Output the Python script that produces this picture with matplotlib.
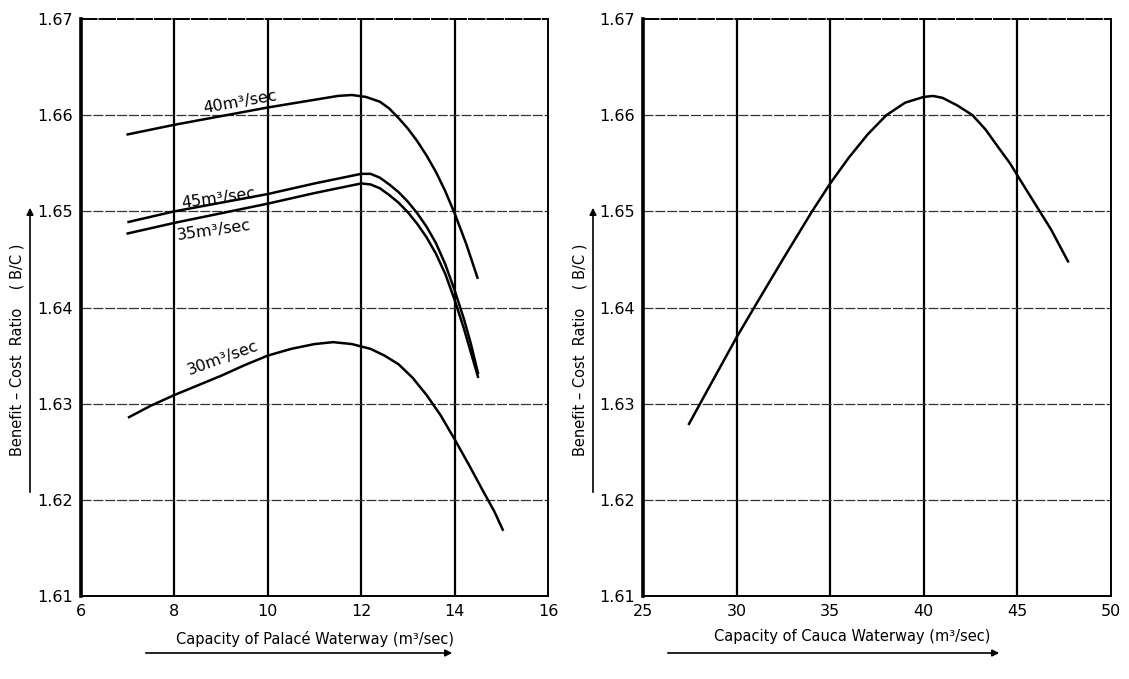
import numpy as np
import matplotlib.pyplot as plt

# Palacé waterway curves (x = capacity m3/sec, y = B/C)
x_40 = [7.0, 8.0, 9.0, 10.0, 10.5, 11.0, 11.5, 11.8, 12.1, 12.4, 12.6, 12.8, 13.0, 13.2,
        13.4, 13.6, 13.8, 14.0, 14.25, 14.49]
y_40 = [1.6580, 1.6590, 1.6599, 1.6608, 1.6612, 1.6616, 1.6620, 1.6621, 1.6619, 1.6614,
        1.6607, 1.6597, 1.6586, 1.6573, 1.6558, 1.6541, 1.6521, 1.6498, 1.6466, 1.6431]

x_45 = [7.02, 8.0, 9.0, 10.0, 11.0, 11.6, 12.0, 12.2, 12.4, 12.6, 12.8, 13.0, 13.2, 13.4,
        13.6, 13.8, 14.0, 14.2, 14.35, 14.5]
y_45 = [1.6489, 1.6500, 1.6509, 1.6518, 1.6529, 1.6535, 1.6539, 1.6539, 1.6535, 1.6528,
        1.6520, 1.6510, 1.6498, 1.6484, 1.6467, 1.6445, 1.6418, 1.6388, 1.6362, 1.6332]

x_35 = [7.0, 8.0, 9.0, 10.0, 11.0, 11.6, 12.0, 12.2, 12.4, 12.6, 12.8, 13.0, 13.2, 13.4,
        13.6, 13.8, 14.0, 14.2, 14.35, 14.5]
y_35 = [1.6477, 1.6488, 1.6498, 1.6508, 1.6519, 1.6525, 1.6529, 1.6528, 1.6524, 1.6517,
        1.6509, 1.6499, 1.6487, 1.6473, 1.6456, 1.6435, 1.6408, 1.6378, 1.6353, 1.6328]

x_30 = [7.03, 7.5, 8.0, 8.5, 9.0, 9.5, 10.0, 10.5, 11.0, 11.4, 11.8, 12.2, 12.5, 12.8,
        13.1, 13.4, 13.7, 14.0, 14.3, 14.6, 14.85, 15.03]
y_30 = [1.6286, 1.6298, 1.6309, 1.6319, 1.6329, 1.6340, 1.6350, 1.6357, 1.6362, 1.6364,
        1.6362, 1.6357, 1.6350, 1.6341, 1.6327, 1.6309, 1.6288, 1.6263, 1.6237, 1.6210,
        1.6188, 1.6169]

# Cauca waterway curve
x_cauca = [27.46, 28.5, 30.0, 31.0, 32.5, 34.0, 35.0, 36.0, 37.0, 38.0, 39.0, 40.0, 40.5,
           41.0, 41.8, 42.6, 43.3, 44.0, 44.6, 45.2, 46.0, 46.8, 47.7]
y_cauca = [1.6279, 1.6316, 1.6369, 1.6402, 1.6451, 1.6499, 1.6529, 1.6556, 1.6580, 1.6600,
           1.6613, 1.6619, 1.6620, 1.6618, 1.6610, 1.6600, 1.6585, 1.6566, 1.6550, 1.6531,
           1.6506, 1.6481, 1.6448]

yticks = [1.61, 1.62, 1.63, 1.64, 1.65, 1.66, 1.67]
ytick_labels = ["1.61", "1.62", "1.63", "1.64", "1.65", "1.66", "1.67"]
xticks_left = [6, 8, 10, 12, 14, 16]
xticks_right = [25, 30, 35, 40, 45, 50]

curve_labels = ["40m³/sec", "45m³/sec", "35m³/sec", "30m³/sec"]

plt.rcParams['font.family'] = ['DejaVu Sans']

fig = plt.figure(figsize=(11.29, 6.79), dpi=100)
ax1 = fig.add_axes([0.0717, 0.1222, 0.4137, 0.8498])
ax2 = fig.add_axes([0.5695, 0.1222, 0.4146, 0.8498])


def style_axes(ax, xticks):
    ax.set_ylim(1.61, 1.67)
    ax.set_xlim(xticks[0], xticks[-1])
    ax.set_xticks(xticks)
    ax.set_xticklabels([str(t) for t in xticks], fontsize=11.5)
    ax.set_yticks(yticks)
    ax.set_yticklabels(ytick_labels, fontsize=11.5)
    ax.tick_params(length=0, pad=6)
    for t in xticks[1:-1]:
        ax.axvline(t, color="black", lw=1.6, zorder=1)
    for t in yticks[1:-1]:
        ax.axhline(t, color="#333333", lw=0.9, ls=(0, (8, 1.5)), zorder=1)
    for s in ["top", "right", "bottom"]:
        ax.spines[s].set_linewidth(1.4)
    ax.spines["left"].set_linewidth(2.6)
    ax.spines["top"].set_linestyle((0, (8, 1.5)))


style_axes(ax1, xticks_left)
style_axes(ax2, xticks_right)

for xs, ys in [(x_40, y_40), (x_45, y_45), (x_35, y_35), (x_30, y_30)]:
    ax1.plot(xs, ys, color="black", lw=1.8, zorder=3, solid_joinstyle="round")

ax2.plot(x_cauca, y_cauca, color="black", lw=1.8, zorder=3, solid_joinstyle="round")

# curve labels
label_pos = [(9.4, 1.6614, 10), (8.95, 1.6513, 8), (8.85, 1.6480, 8), (9.05, 1.6347, 20)]
for txt, (lx, ly, rot) in zip(curve_labels, label_pos):
    ax1.text(lx, ly, txt, fontsize=11.5, rotation=rot, ha="center", va="center",
             rotation_mode="anchor", zorder=4)

# axis titles with arrow lines
fig.text(315 / 1129, 1 - 639 / 679, "Capacity of Palacé Waterway (m³/sec)", fontsize=10.5,
         ha="center", va="center")
fig.text(852 / 1129, 1 - 637 / 679, "Capacity of Cauca Waterway (m³/sec)", fontsize=10.5,
         ha="center", va="center")
fig.text(17 / 1129, 1 - 350 / 679, "Benefit – Cost  Ratio    ( B/C )", fontsize=10.5,
         rotation=90, ha="center", va="center")
fig.text(580 / 1129, 1 - 350 / 679, "Benefit – Cost  Ratio    ( B/C )", fontsize=10.5,
         rotation=90, ha="center", va="center")

arrow = dict(arrowstyle="-|>", color="black", lw=1.2, mutation_scale=10)
ax1.annotate("", xy=(455 / 1129, 1 - 653 / 679), xytext=(143 / 1129, 1 - 653 / 679),
             xycoords="figure fraction", textcoords="figure fraction", arrowprops=arrow)
ax2.annotate("", xy=(1002 / 1129, 1 - 653 / 679), xytext=(665 / 1129, 1 - 653 / 679),
             xycoords="figure fraction", textcoords="figure fraction", arrowprops=arrow)
ax1.annotate("", xy=(30 / 1129, 1 - 205 / 679), xytext=(30 / 1129, 1 - 495 / 679),
             xycoords="figure fraction", textcoords="figure fraction", arrowprops=arrow,
             annotation_clip=False)
ax2.annotate("", xy=(593 / 1129, 1 - 205 / 679), xytext=(593 / 1129, 1 - 495 / 679),
             xycoords="figure fraction", textcoords="figure fraction", arrowprops=arrow,
             annotation_clip=False)

fig.savefig("out.png", dpi=100)
